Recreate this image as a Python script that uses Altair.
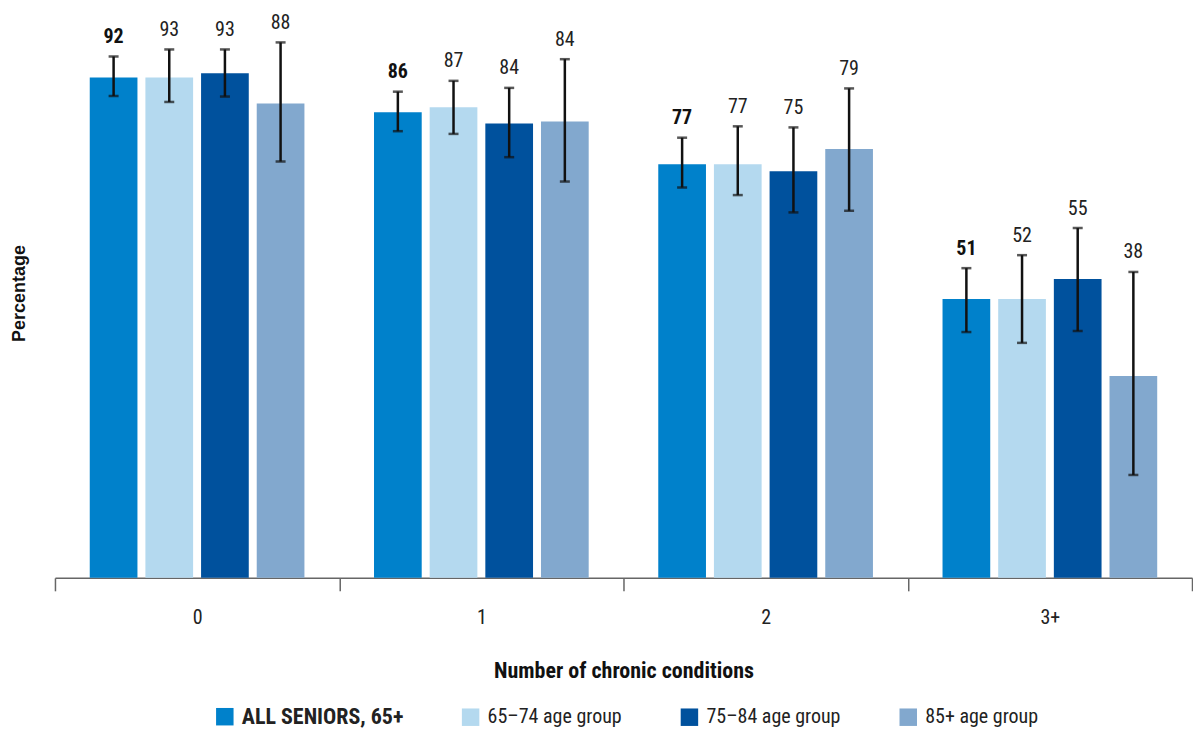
import altair as alt
import pandas as pd

categories = ["0", "1", "2", "3+"]
series = ["ALL SENIORS, 65+", "65–74 age group", "75–84 age group", "85+ age group"]
colors = ["#0081cb", "#b4d9ef", "#00519d", "#82a8ce"]

# bar values per series, across categories 0, 1, 2, 3+
val_all = [92.4, 86.0, 76.4, 51.5]
val_6574 = [92.4, 86.9, 76.4, 51.5]
val_7584 = [93.2, 83.9, 75.1, 55.2]
val_85 = [87.6, 84.3, 79.2, 37.3]

# error bar upper bounds
hi_all = [96.3, 89.8, 81.3, 57.2]
hi_6574 = [97.6, 91.8, 83.4, 59.6]
hi_7584 = [97.6, 90.5, 83.2, 64.6]
hi_85 = [98.9, 95.8, 90.4, 56.5]

# error bar lower bounds
lo_all = [89.0, 82.5, 72.1, 45.4]
lo_6574 = [87.9, 82.0, 70.7, 43.4]
lo_7584 = [88.9, 77.7, 67.5, 45.6]
lo_85 = [76.9, 73.2, 67.8, 19.0]

# printed labels
lab_all = [92, 86, 77, 51]
lab_6574 = [93, 87, 77, 52]
lab_7584 = [93, 84, 75, 55]
lab_85 = [88, 84, 79, 38]

vals = [val_all, val_6574, val_7584, val_85]
his = [hi_all, hi_6574, hi_7584, hi_85]
los = [lo_all, lo_6574, lo_7584, lo_85]
labs = [lab_all, lab_6574, lab_7584, lab_85]

rows = []
for si, s in enumerate(series):
    for ci, c in enumerate(categories):
        rows.append({"cat": c, "series": s, "value": vals[si][ci],
                     "hi": his[si][ci], "lo": los[si][ci], "label": str(labs[si][ci])})
df = pd.DataFrame(rows)

FONT = "Roboto Condensed, Liberation Sans Narrow, Arial Narrow, Roboto"

x = alt.X("cat:N", sort=categories,
          scale=alt.Scale(paddingInner=0, paddingOuter=0),
          axis=alt.Axis(title="Number of chronic conditions", labelAngle=0,
                        tickBand="extent", tickSize=13, tickColor="#666666",
                        tickWidth=1.5, domainColor="#666666", domainWidth=1.5,
                        labelFontSize=20, labelColor="#222222", labelPadding=17,
                        titleFontSize=22, titleFontWeight="bold", titleColor="#111111",
                        titlePadding=33, grid=False))
xo = alt.XOffset("series:N", sort=series,
                 scale=alt.Scale(paddingInner=0.143, paddingOuter=0.625))
y = alt.Y("value:Q", scale=alt.Scale(domain=[0, 105.2], nice=False),
          axis=alt.Axis(title="Percentage", labels=False, ticks=False, domain=False,
                        grid=False, titleFont="Liberation Sans", titleFontSize=18,
                        titleFontWeight="bold", titleColor="#111111", titlePadding=26))

base = alt.Chart(df)

bars = base.mark_bar().encode(
    x=x, xOffset=xo, y=y,
    color=alt.Color("series:N", sort=series,
                    scale=alt.Scale(domain=series, range=colors),
                    legend=alt.Legend(title=None, orient="none", direction="horizontal",
                                      legendX=160, legendY=699,
                                      symbolType="square", symbolSize=306,
                                      symbolStrokeWidth=0, labelLimit=400,
                                      labelFontSize=alt.ExprRef(
                                          "datum.label == 'ALL SENIORS, 65+' ? 22 : 20"),
                                      labelColor="#222222", labelOffset=7,
                                      columnPadding=57,
                                      labelFontWeight=alt.ExprRef(
                                          "datum.label == 'ALL SENIORS, 65+' ? 'bold' : 'normal'"))),
)

err = base.mark_rule(color="#111111", strokeWidth=2.5).encode(
    x=x, xOffset=xo, y="lo:Q", y2="hi:Q")
cap_hi = base.mark_tick(color="#111111", thickness=2.5, size=10).encode(
    x=x, xOffset=xo, y="hi:Q")
cap_lo = base.mark_tick(color="#111111", thickness=2.5, size=10).encode(
    x=x, xOffset=xo, y="lo:Q")

txt_bold = base.transform_filter(alt.datum.series == series[0]).mark_text(
    fontSize=20, fontWeight="bold", color="#111111", dy=-13.5, baseline="alphabetic"
).encode(x=x, xOffset=xo, y="hi:Q", text="label:N")
txt_norm = base.transform_filter(alt.datum.series != series[0]).mark_text(
    fontSize=20, color="#222222", dy=-13.5, baseline="alphabetic"
).encode(x=x, xOffset=xo, y="hi:Q", text="label:N")

chart = alt.layer(bars, err, cap_hi, cap_lo, txt_bold, txt_norm).properties(
    width=1138, height=570,
    padding={"left": 3, "top": 0, "right": 0, "bottom": 0},
).configure(font=FONT).configure_view(stroke=None)

chart.save("out.html", embed_options={"renderer": "svg", "actions": False})
